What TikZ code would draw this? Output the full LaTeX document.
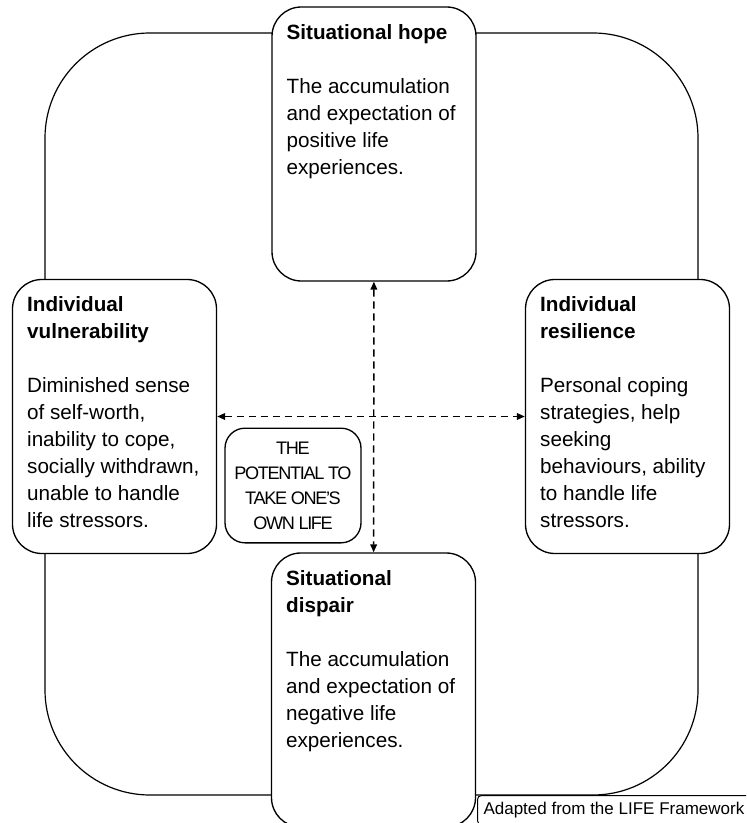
\documentclass[tikz,border=0pt]{standalone}
\usepackage{fontspec}
\setmainfont{Liberation Sans}
\usetikzlibrary{arrows.meta}
\newcommand{\cardtext}[2]{\parbox[c][179.5pt][t]{131pt}{\raggedright\textbf{#1}\\[20.25pt]#2}}
\begin{document}
\begin{tikzpicture}[x=0.75pt,y=-0.75pt,
		card/.style={draw,fill=white,line width=1pt,rounded corners=22pt,inner xsep=11pt,inner ysep=13pt,font=\fontsize{15.5pt}{20.25pt}\selectfont},
		core/.style={draw,fill=white,line width=1pt,rounded corners=15pt,minimum width=102pt,minimum height=86pt,align=center,inner sep=2pt,font=\fontsize{13.6pt}{18.75pt}\selectfont\addfontfeature{LetterSpace=-7.5}},
		credit/.style={draw,fill=white,line width=0.75pt,rounded corners=3pt,inner xsep=4.5pt,inner ysep=5pt,font=\fontsize{12.75pt}{15pt}\selectfont},
		link/.style={<->,>={Triangle[length=6pt,width=5pt]},dash pattern=on 5.5pt off 3.5pt,line width=1.1pt}]
			\useasboundingbox (0,0) rectangle (746,823);
			\clip (0,0) rectangle (746,823);
			\draw[line width=0.9pt,rounded corners=78.75pt] (45,33) rectangle (698,795);
	
			\node[card] (SH) at (374,144) {\cardtext{Situational hope}{The accumulation\\and expectation of\\positive life\\experiences.}};
			\node[card] (IV) at (114.5,416.5) {\cardtext{Individual\\vulnerability}{Diminished sense\\of self-worth,\\inability to cope,\\socially withdrawn,\\unable to handle\\life stressors.}};
			\node[card] (IR) at (627.5,416.5) {\cardtext{Individual\\resilience}{Personal coping\\strategies, help\\seeking\\behaviours, ability\\to handle life\\stressors.}};
			\node[card] (SD) at (373.5,690) {\cardtext{Situational\\dispair}{The accumulation\\and expectation of\\negative life\\experiences.}};
			\node[core] (P) at (293,485.5) {THE\\POTENTIAL TO\\TAKE ONE'S\\OWN LIFE};
			\node[credit,anchor=north west] (F) at (477,795) {Adapted from the LIFE Framework};
	
			\draw[link] (SH) -- (SD);
			\draw[link] (IV) -- (IR);
		\end{tikzpicture}
\end{document}
